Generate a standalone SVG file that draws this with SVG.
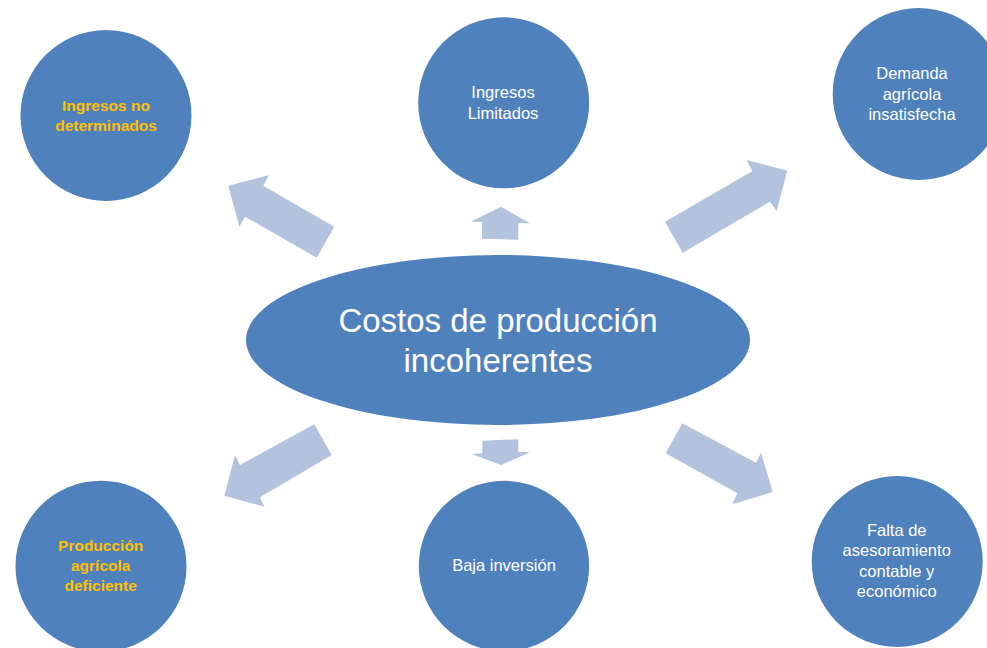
<svg xmlns="http://www.w3.org/2000/svg" width="987" height="648" viewBox="0 0 987 648">
<style>
.node{fill:#4F81BD}
.arrow{fill:#B3C3DE}
.w{fill:#FFFFFF;font-family:"Liberation Sans",Arial,sans-serif;font-size:16.5px;text-anchor:middle}
.y{fill:#FFC000;font-family:"Liberation Sans",Arial,sans-serif;font-size:15.5px;font-weight:bold;text-anchor:middle}
.big{fill:#FFFFFF;font-family:"Liberation Sans",Arial,sans-serif;font-size:33px;text-anchor:middle}
</style>
<rect width="987" height="648" fill="#FFFFFF"/>
<g id="connectors">
<polygon class="arrow" points="228.3,185.7 269,175 263.3,185.7 334.3,226.7 316.7,257.7 245,216.7 239.3,226.7"/>
<polygon class="arrow" points="501,206.7 530,223.3 518.3,223.3 518.3,239.7 482,238.7 482,221.7 470.7,221.7"/>
<polygon class="arrow" points="787.3,170.7 776.7,211 770,201.7 682.7,252.7 665,221.7 752.3,171 746.7,160"/>
<polygon class="arrow" points="224.3,495.7 264.3,506.7 260,497.3 331.7,455 314.3,424.3 240,465 235,455"/>
<polygon class="arrow" points="501,465 530,452.3 518.3,451.7 518.3,439.3 482.3,440.7 482.3,453.3 471.7,454"/>
<polygon class="arrow" points="772.7,492 761,452.7 756,462.7 682.3,423.3 665.7,453.3 737.3,493.3 732.3,504.3"/>
</g>
<g id="center">
<ellipse class="node" cx="498" cy="340" rx="252" ry="85"/>
<text class="big" x="498" y="332">Costos de producción</text>
<text class="big" x="498" y="372">incoherentes</text>
</g>
<g id="n-ingresos-no-determinados">
<circle class="node" cx="106" cy="115.5" r="85.5"/>
<text class="y" x="106" y="111">Ingresos no</text>
<text class="y" x="106" y="131">determinados</text>
</g>
<g id="n-ingresos-limitados">
<circle class="node" cx="503.7" cy="102.8" r="85.5"/>
<text class="w" x="503" y="98.3">Ingresos</text>
<text class="w" x="503" y="119">Limitados</text>
</g>
<g id="n-demanda">
<circle class="node" cx="918.7" cy="94" r="86"/>
<text class="w" x="912" y="79">Demanda</text>
<text class="w" x="912" y="100">agrícola</text>
<text class="w" x="912" y="120">insatisfecha</text>
</g>
<g id="n-produccion">
<circle class="node" cx="101" cy="566.2" r="85.5"/>
<text class="y" x="100.7" y="550.7">Producción</text>
<text class="y" x="100.7" y="571">agrícola</text>
<text class="y" x="100.7" y="590.7">deficiente</text>
</g>
<g id="n-baja-inversion">
<circle class="node" cx="504" cy="566" r="85.2"/>
<text class="w" x="504" y="571">Baja inversión</text>
</g>
<g id="n-falta-asesoramiento">
<circle class="node" cx="897.2" cy="561.5" r="85.5"/>
<text class="w" x="896.7" y="536">Falta de</text>
<text class="w" x="896.7" y="555.7">asesoramiento</text>
<text class="w" x="896.7" y="576.7">contable y</text>
<text class="w" x="896.7" y="596.7">económico</text>
</g>
</svg>
